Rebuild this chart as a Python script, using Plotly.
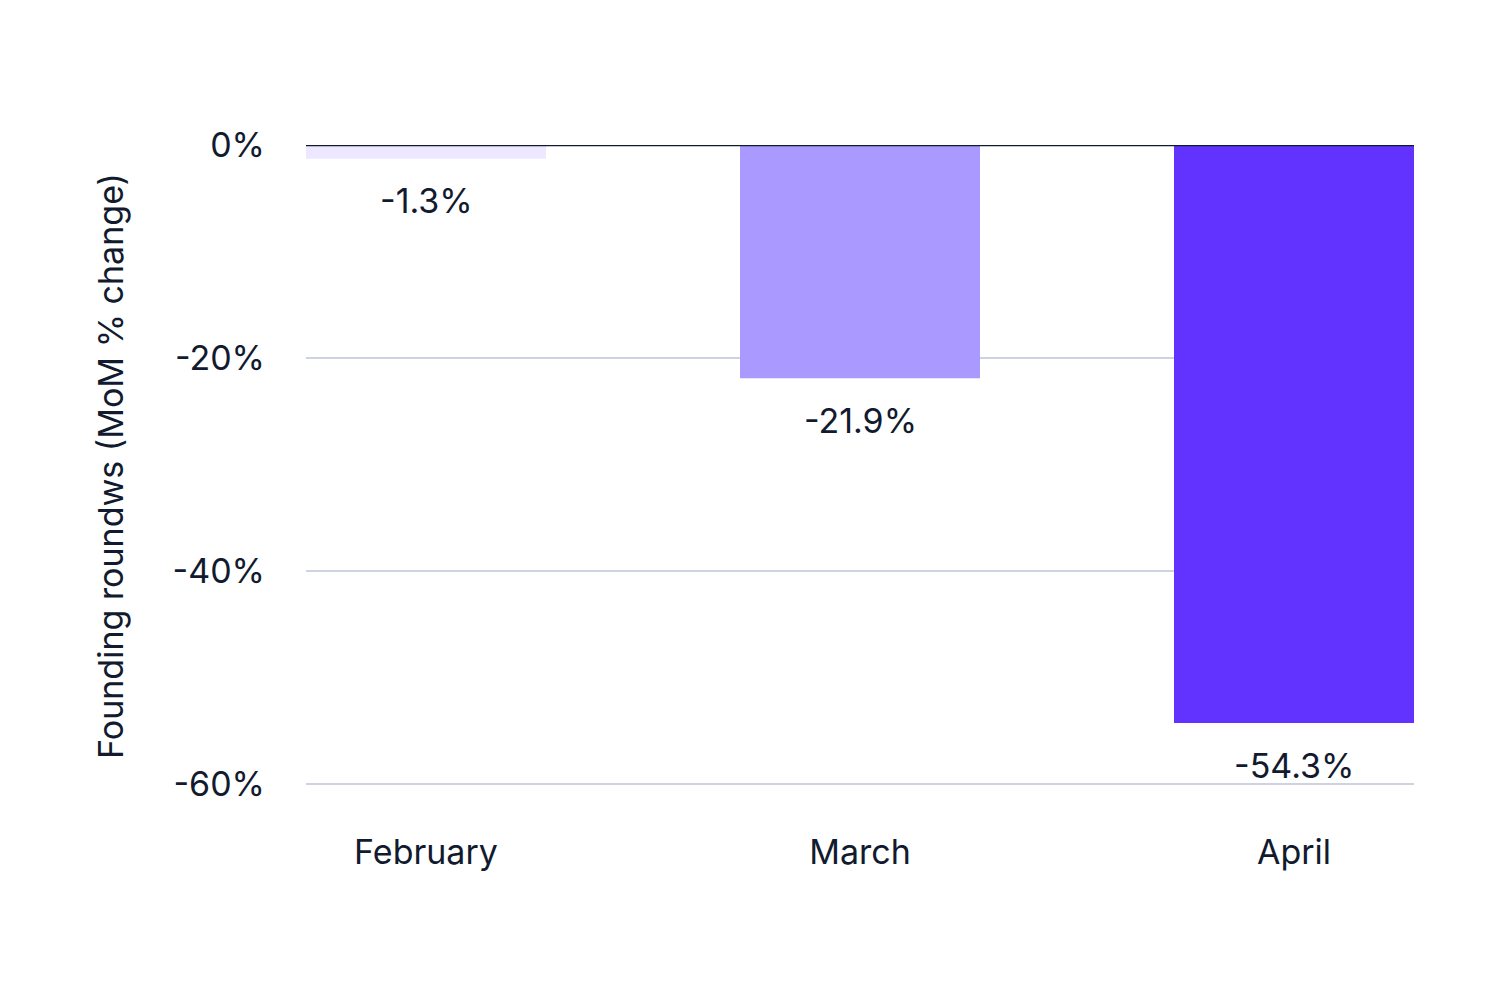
import plotly.graph_objects as go

months = ["February", "March", "April"]
mom_change = [-1.3, -21.9, -54.3]
bar_colors = ["#ede8ff", "#aa99ff", "#6233ff"]
y_ticks = [0, -20, -40, -60]
y_tick_labels = ["0%", "-20%", "-40%", "-60%"]

ink = "#111a2e"
font_family = "Inter, 'Noto Sans', sans-serif"
fs = 34

fig = go.Figure()

fig.add_trace(go.Bar(
    x=months,
    y=mom_change,
    marker=dict(color=bar_colors, line=dict(width=0)),
    width=0.553,
    hoverinfo="skip",
))

# value labels sit under each bar
for m, v in zip(months, mom_change):
    fig.add_annotation(
        x=m, y=v, text=f"{v}%", showarrow=False,
        yanchor="middle", yshift=-42,
        font=dict(size=fs, color=ink, family=font_family),
    )

# dark baseline on top of bars
fig.add_shape(
    type="line", xref="paper", x0=0, x1=1, yref="y", y0=0, y1=0,
    line=dict(color=ink, width=2.5), layer="above",
)

fig.update_layout(
    width=1500,
    height=1000,
    margin=dict(l=298, r=94, t=137, b=221),
    paper_bgcolor="white",
    plot_bgcolor="white",
    showlegend=False,
    font=dict(family=font_family, color=ink, size=fs),
    xaxis=dict(
        range=[-0.2765, 2.2765],
        showgrid=False,
        showline=False,
        zeroline=False,
        ticks="",
        ticklabelstandoff=42,
        tickfont=dict(size=fs, color=ink),
    ),
    yaxis=dict(
        range=[-60.3, 0],
        tickvals=y_ticks,
        ticktext=y_tick_labels,
        showgrid=True,
        gridcolor="#cdd3e0",
        gridwidth=2,
        zeroline=False,
        showline=False,
        ticks="",
        ticklabelstandoff=40,
        tickfont=dict(size=fs, color=ink),
        title=dict(
            text="Founding roundws (MoM % change)",
            standoff=38,
            font=dict(size=fs, color=ink),
        ),
    ),
)

fig.write_html("out.html")
